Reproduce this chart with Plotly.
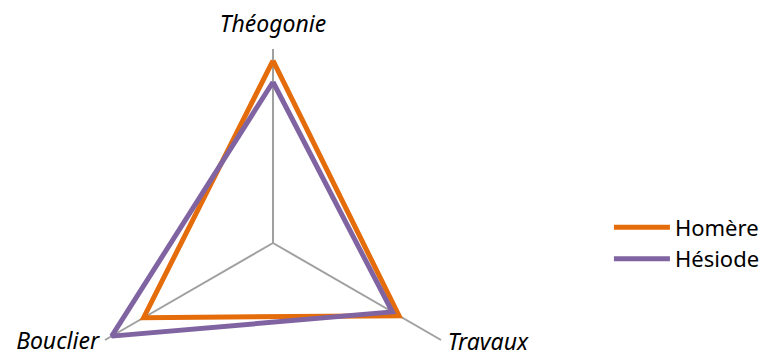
import math
import plotly.graph_objects as go

categories = ["Théogonie", "Travaux", "Bouclier"]
homere = [0.94, 0.75, 0.77]
hesiode = [0.83, 0.71, 0.96]
series_names = ["Homère", "Hésiode"]
colors = ["#E46C0A", "#8064A2"]

FONT = "Noto Sans"
W, H = 776, 357
CX, CY, R_FULL = 273, 243, 194  # pixel geometry of the spider (centre, full radius)
LABEL_R = [1.06, 1.04, 1.035]   # label distance along each spoke

n = len(categories)
angles = [math.radians(90 - i * 360 / n) for i in range(n)]


def to_xy(vals):
    xs = [v * math.cos(a) for v, a in zip(vals, angles)]
    ys = [v * math.sin(a) for v, a in zip(vals, angles)]
    return xs + xs[:1], ys + ys[:1]


fig = go.Figure()

# spokes (radial grid lines)
sx, sy = [], []
for a in angles:
    sx += [0, math.cos(a), None]
    sy += [0, math.sin(a), None]
fig.add_trace(go.Scatter(x=sx, y=sy, mode="lines",
                         line=dict(color="#A0A0A0", width=2),
                         showlegend=False, hoverinfo="skip"))

for name, vals, col in zip(series_names, [homere, hesiode], colors):
    xs, ys = to_xy(vals)
    fig.add_trace(go.Scatter(x=xs, y=ys, mode="lines", name=name,
                             line=dict(color=col, width=5),
                             hoverinfo="name"))

# category labels at the end of each spoke
lx = [r * math.cos(a) for r, a in zip(LABEL_R, angles)]
ly = [r * math.sin(a) for r, a in zip(LABEL_R, angles)]
fig.add_trace(go.Scatter(x=lx, y=ly, mode="text", text=categories,
                         textposition=["top center", "middle right", "middle left"],
                         textfont=dict(family=FONT, size=23, color="#000000", style="italic"),
                         showlegend=False, hoverinfo="skip", cliponaxis=False))

fig.update_layout(
    width=W, height=H,
    margin=dict(l=0, r=0, t=0, b=0),
    paper_bgcolor="white",
    plot_bgcolor="white",
    font=dict(family=FONT, size=22, color="#000000"),
    xaxis=dict(visible=False, range=[-CX / R_FULL, (W - CX) / R_FULL], fixedrange=True),
    yaxis=dict(visible=False, range=[(CY - H) / R_FULL, CY / R_FULL], fixedrange=True),
    legend=dict(x=0.7847, y=0.318, xanchor="left", yanchor="middle",
                font=dict(family=FONT, size=22), itemwidth=56, tracegroupgap=0,
                bgcolor="rgba(0,0,0,0)"),
    showlegend=True,
)

fig.write_html("out.html", config={"displayModeBar": False},
               post_script="document.body.style.margin='0px';document.body.style.overflow='hidden';")
